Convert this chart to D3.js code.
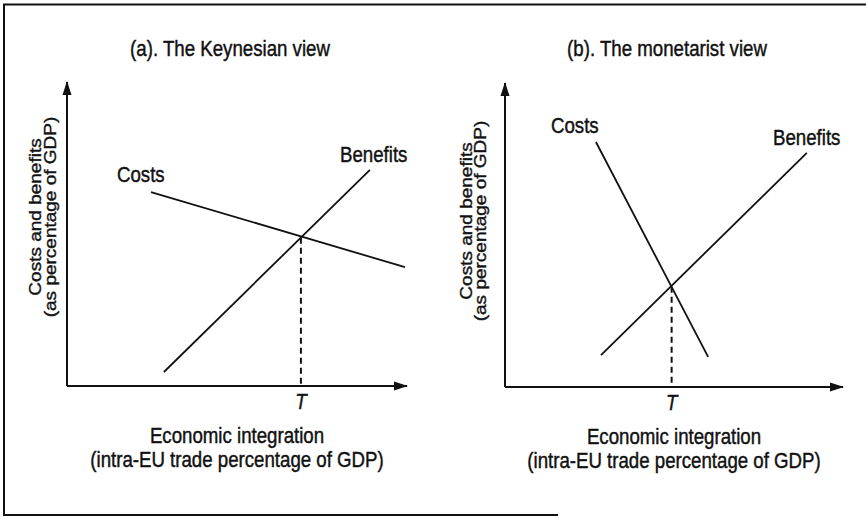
<!DOCTYPE html>
<html>
<head>
<meta charset="utf-8">
<script src="https://cdn.jsdelivr.net/npm/d3@7"></script>
<style>
  html, body { margin: 0; padding: 0; background: #fff; }
  svg text { font-family: "Liberation Sans", Arial, sans-serif; fill: #111; stroke: #111; stroke-width: 0.45px; }
</style>
</head>
<body>
<svg id="chart" width="866" height="518"></svg>
<script>
// ---- Data (conceptual units, 0..10 on both axes) ----
const panelTitles = ["(a). The Keynesian view", "(b). The monetarist view"];
const yAxisLabel = ["Costs and benefits", "(as percentage of GDP)"];
const xAxisLabel = ["Economic integration", "(intra-EU trade percentage of GDP)"];
const seriesNames = ["Costs", "Benefits"];
const thresholdLabel = "T";

const keynesCosts = [[2.47, 6.38], [9.94, 3.91]];
const keynesBenefits = [[2.85, 0.46], [8.91, 7.11]];
const keynesT = [6.88, 4.88];

const monetCosts = [[2.69, 8.06], [6.01, 0.99]];
const monetBenefits = [[2.84, 1.05], [8.93, 7.70]];
const monetT = [4.93, 3.30];

// ---- Layout ----
const layout = [
  { xr: [67, 407], yr: [386, 82], ylab: { cy: 217, x1: 41, x2: 55.5 },
    costLab: [1.47, 6.71], benLab: [8.03, 7.37], titleX: 230 },
  { xr: [505, 843], yr: [387, 83], ylab: { cy: 221, x1: 471.5, x2: 486 },
    costLab: [1.36, 8.36], benLab: [7.93, 7.96], titleX: 667 }
];
const panelData = [
  { costs: keynesCosts, benefits: keynesBenefits, T: keynesT },
  { costs: monetCosts, benefits: monetBenefits, T: monetT }
];

const FS = 22.5;     // main font size
const SX = 0.83;     // horizontal condensing of the scan
const YFS = 19;      // y-axis label font size
const YSY = 0.85;    // same condensing, across rotated text

const svg = d3.select("#chart");

function addText(g, x, y, str, o = {}) {
  const rot = o.rotate ? ` rotate(${o.rotate})` : "";
  const sc = o.rotate ? `scale(1,${YSY})` : `scale(${SX},1)`;
  return g.append("text")
    .attr("transform", `translate(${x},${y})${rot} ${sc}`)
    .attr("text-anchor", o.anchor || "start")
    .attr("font-size", o.fs || FS)
    .attr("font-style", o.italic ? "italic" : null)
    .text(str);
}

// arrow marker
const defs = svg.append("defs");
defs.append("marker")
  .attr("id", "arrow")
  .attr("markerUnits", "userSpaceOnUse")
  .attr("viewBox", "0 -5 14 10")
  .attr("refX", 13).attr("refY", 0)
  .attr("markerWidth", 14).attr("markerHeight", 10)
  .attr("orient", "auto")
  .append("path")
  .attr("d", "M0,-4.5L14,0L0,4.5Z")
  .attr("fill", "#111");

// frame
const frame = svg.append("g").attr("stroke", "#111").attr("stroke-width", 2).attr("fill", "none");
frame.append("path").attr("d", "M866,4.5H4V515H558");

const line = d3.line().x(d => d[0]).y(d => d[1]);

panelData.forEach((pd, i) => {
  const L = layout[i];
  const x = d3.scaleLinear().domain([0, 10]).range(L.xr);
  const y = d3.scaleLinear().domain([0, 10]).range(L.yr);
  const g = svg.append("g");

  addText(g, L.titleX, 56, panelTitles[i], { anchor: "middle" });

  // axes
  g.append("path")
    .attr("d", line([[x(0), y(0)], [x(0), y(10)]]))
    .attr("stroke", "#111").attr("stroke-width", 2).attr("fill", "none")
    .attr("marker-end", "url(#arrow)");
  g.append("path")
    .attr("d", line([[x(0), y(0)], [x(10), y(0)]]))
    .attr("stroke", "#111").attr("stroke-width", 2).attr("fill", "none")
    .attr("marker-end", "url(#arrow)");

  // curves
  [pd.costs, pd.benefits].forEach(s => {
    g.append("path")
      .attr("d", line(s.map(p => [x(p[0]), y(p[1])])))
      .attr("stroke", "#111").attr("stroke-width", 1.8).attr("fill", "none");
  });

  // dashed threshold
  g.append("path")
    .attr("d", line([[x(pd.T[0]), y(pd.T[1])], [x(pd.T[0]), y(0)]]))
    .attr("stroke", "#111").attr("stroke-width", 2).attr("fill", "none")
    .attr("stroke-dasharray", "6,4");

  addText(g, x(pd.T[0]), y(0) + 23, thresholdLabel, { anchor: "middle", italic: true });

  addText(g, x(L.costLab[0]), y(L.costLab[1]), seriesNames[0]);
  addText(g, x(L.benLab[0]), y(L.benLab[1]), seriesNames[1]);

  const cx = (L.xr[0] + L.xr[1]) / 2;
  addText(g, cx, y(0) + 57, xAxisLabel[0], { anchor: "middle" });
  addText(g, cx, y(0) + 81, xAxisLabel[1], { anchor: "middle" });

  addText(g, L.ylab.x1, L.ylab.cy, yAxisLabel[0], { anchor: "middle", rotate: -90, fs: YFS });
  addText(g, L.ylab.x2, L.ylab.cy, yAxisLabel[1], { anchor: "middle", rotate: -90, fs: YFS });
});
</script>
</body>
</html>
